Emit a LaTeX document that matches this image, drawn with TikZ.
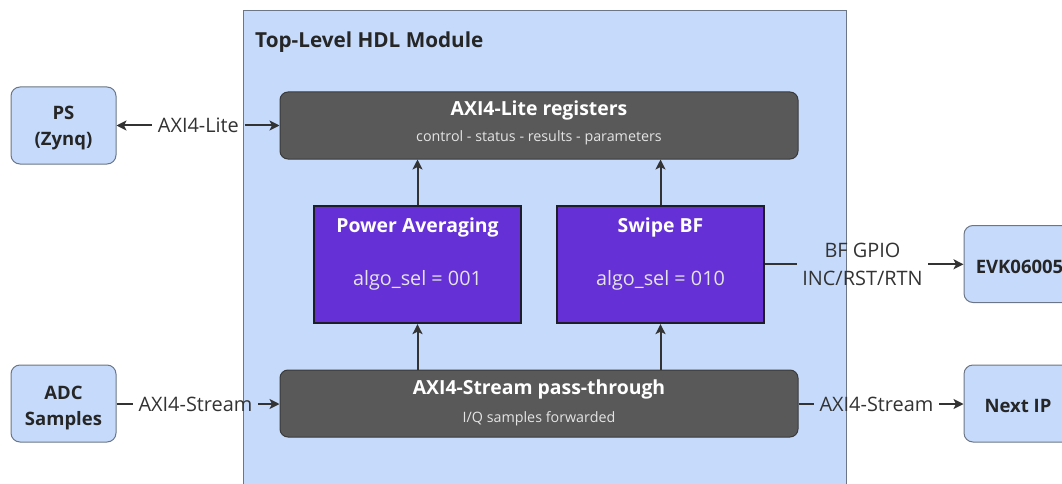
\documentclass[tikz,border=0pt]{standalone}
\usepackage{fontspec}
\setmainfont{Open Sans}
\usetikzlibrary{arrows.meta}

\definecolor{modfill}{HTML}{C6DBFC}
\definecolor{modline}{HTML}{6B7686}
\definecolor{corefill}{HTML}{595959}
\definecolor{coreline}{HTML}{3A3A3A}
\definecolor{algofill}{HTML}{6530D6}
\definecolor{algoline}{HTML}{1E1E28}
\definecolor{ink}{HTML}{333333}
\definecolor{soft}{HTML}{E4E4E4}

\begin{document}
\begin{tikzpicture}[x=1pt,y=-1pt,
  ext/.style={draw=modline, fill=modfill, rounded corners=9pt, line width=1pt,
              minimum width=105pt, minimum height=77pt, inner sep=0pt},
  exttext/.style={anchor=base, inner sep=0pt, text=black!85,
                  font=\bfseries\fontsize{18.5}{26}\selectfont},
  core/.style={draw=coreline, fill=corefill, rounded corners=8pt, line width=1pt,
               minimum width=518pt, minimum height=67pt, inner sep=0pt},
  algo/.style={draw=algoline, fill=algofill, line width=2.2pt,
               minimum width=207pt, minimum height=117pt, inner sep=0pt},
  boxtitle/.style={anchor=base, text=white, font=\bfseries\fontsize{19.4}{22}\selectfont, inner sep=0pt},
  boxsub/.style={anchor=base, text=soft, font=\fontsize{14.3}{17}\selectfont, inner sep=0pt},
  algotext/.style={anchor=base, text=soft, font=\fontsize{19.8}{22}\selectfont, inner sep=0pt},
  wirelabel/.style={text=ink, font=\fontsize{19.9}{27.7}\selectfont, align=center, inner sep=5.5pt},
  wire/.style={draw=ink, line width=2pt},
  tip/.style={-{Stealth[length=10pt,width=10pt,inset=2.5pt]}},
  tipback/.style={{Stealth[length=10pt,width=10pt,inset=2.5pt]}-},
]
\useasboundingbox (0,0) rectangle (1062,484);
\clip (0,0) rectangle (1062,484);

% enclosing HDL module
\draw[draw=modline, fill=modfill, line width=1pt] (243,11) rectangle (846,520);
\node[anchor=base west, inner sep=0pt, text=black!85,
      font=\bfseries\fontsize{20.7}{25}\selectfont] (modtitle) at (255,48) {Top-Level HDL Module};

% register bank and stream path
\node[core] (reg) at (539,125.5) {};
\node[boxtitle] (regT) at (539,115.7) {AXI4-Lite registers};
\node[boxsub] (regS) at (539,141.7) {control - status - results - parameters};

\node[core] (stream) at (539,403.5) {};
\node[boxtitle] (streamT) at (539,394.5) {AXI4-Stream pass-through};
\node[boxsub] (streamS) at (539,422) {I/Q samples forwarded};

% algorithm blocks
\node[algo] (pa) at (417.5,264.5) {};
\node[boxtitle] (paT) at (417.5,232.7) {Power Averaging};
\node[algotext] (paS) at (417.5,285) {algo\_sel = 001};

\node[algo] (bf) at (660.5,264.5) {};
\node[boxtitle] (bfT) at (660.5,232.7) {Swipe BF};
\node[algotext] (bfS) at (660.5,285) {algo\_sel = 010};

% external blocks
\node[ext] (ps) at (63.5,125.5) {};
\node[exttext] (psA) at (63.5,119.3) {PS};
\node[exttext] (psB) at (63.5,145) {(Zynq)};

\node[ext] (adc) at (63.5,403.5) {};
\node[exttext] (adcA) at (63.5,399.3) {ADC};
\node[exttext] (adcB) at (63.5,425) {Samples};

\node[ext, minimum width=111pt] (evk) at (1019.5,264) {};
\node[exttext] (evkT) at (1019.5,273) {EVK06005};

\node[ext, minimum width=111pt] (next) at (1019.5,403.5) {};
\node[exttext] (nextT) at (1018,412.3) {Next IP};

% connector labels
\node[wirelabel] (lite) at (198.4,125.5) {AXI4-Lite};
\node[wirelabel] (sin) at (195.5,404) {AXI4-Stream};
\node[wirelabel] (sout) at (876.5,404) {AXI4-Stream};
\node[wirelabel] (gpio) at (862.5,264.3) {BF GPIO\\INC/RST/RTN};

% connectors
\draw[wire,tipback] (ps) -- (lite);
\draw[wire,tip] (lite) -- (reg.west |- lite);
\draw[wire] (adc.east |- sin) -- (sin);
\draw[wire,tip] (sin) -- (stream.west |- sin);
\draw[wire] (stream.east |- sout) -- (sout);
\draw[wire,tip] (sout) -- (next.west |- sout);
\draw[wire] (bf.east |- gpio) -- (gpio);
\draw[wire,tip] (gpio) -- (evk.west |- gpio);

\draw[wire,tip] (pa.north) -- (pa.north |- reg.south);
\draw[wire,tip] (bf.north) -- (bf.north |- reg.south);
\draw[wire,tip] (stream.north -| pa.south) -- (pa.south);
\draw[wire,tip] (stream.north -| bf.south) -- (bf.south);
\end{tikzpicture}
\end{document}
